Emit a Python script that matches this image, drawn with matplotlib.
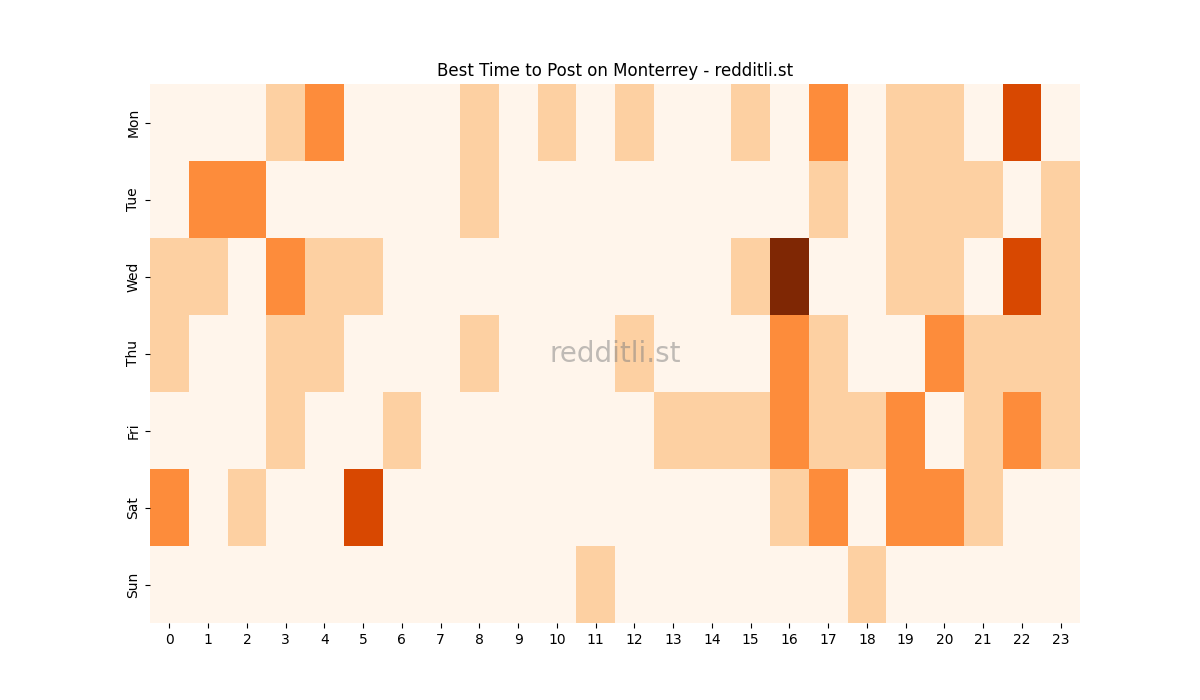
import matplotlib
matplotlib.use("Agg")
import matplotlib.pyplot as plt
import numpy as np

days = ["Mon", "Tue", "Wed", "Thu", "Fri", "Sat", "Sun"]
hours = list(range(24))

mon = [0, 0, 0, 1, 2, 0, 0, 0, 1, 0, 1, 0, 1, 0, 0, 1, 0, 2, 0, 1, 1, 0, 3, 0]
tue = [0, 2, 2, 0, 0, 0, 0, 0, 1, 0, 0, 0, 0, 0, 0, 0, 0, 1, 0, 1, 1, 1, 0, 1]
wed = [1, 1, 0, 2, 1, 1, 0, 0, 0, 0, 0, 0, 0, 0, 0, 1, 4, 0, 0, 1, 1, 0, 3, 1]
thu = [1, 0, 0, 1, 1, 0, 0, 0, 1, 0, 0, 0, 1, 0, 0, 0, 2, 1, 0, 0, 2, 1, 1, 1]
fri = [0, 0, 0, 1, 0, 0, 1, 0, 0, 0, 0, 0, 0, 1, 1, 1, 2, 1, 1, 2, 0, 1, 2, 1]
sat = [2, 0, 1, 0, 0, 3, 0, 0, 0, 0, 0, 0, 0, 0, 0, 0, 1, 2, 0, 2, 2, 1, 0, 0]
sun = [0, 0, 0, 0, 0, 0, 0, 0, 0, 0, 0, 1, 0, 0, 0, 0, 0, 0, 1, 0, 0, 0, 0, 0]

grid = np.array([mon, tue, wed, thu, fri, sat, sun])

fig, ax = plt.subplots(figsize=(12, 7), dpi=100)
ax.pcolormesh(grid, cmap="Oranges", vmin=0, vmax=4)
ax.set_xlim(0, len(hours))
ax.set_ylim(len(days), 0)
ax.set_xticks(np.arange(len(hours)) + 0.5)
ax.set_xticklabels(hours)
ax.set_yticks(np.arange(len(days)) + 0.5)
ax.set_yticklabels(days, rotation=90, va="center")
for s in ax.spines.values():
    s.set_visible(False)
ax.set_title("Best Time to Post on Monterrey - redditli.st")
ax.text(0.5, 0.5, "redditli.st", transform=ax.transAxes, ha="center",
        va="center", fontsize=20, color="grey", alpha=0.5)

fig.savefig("out.png")
